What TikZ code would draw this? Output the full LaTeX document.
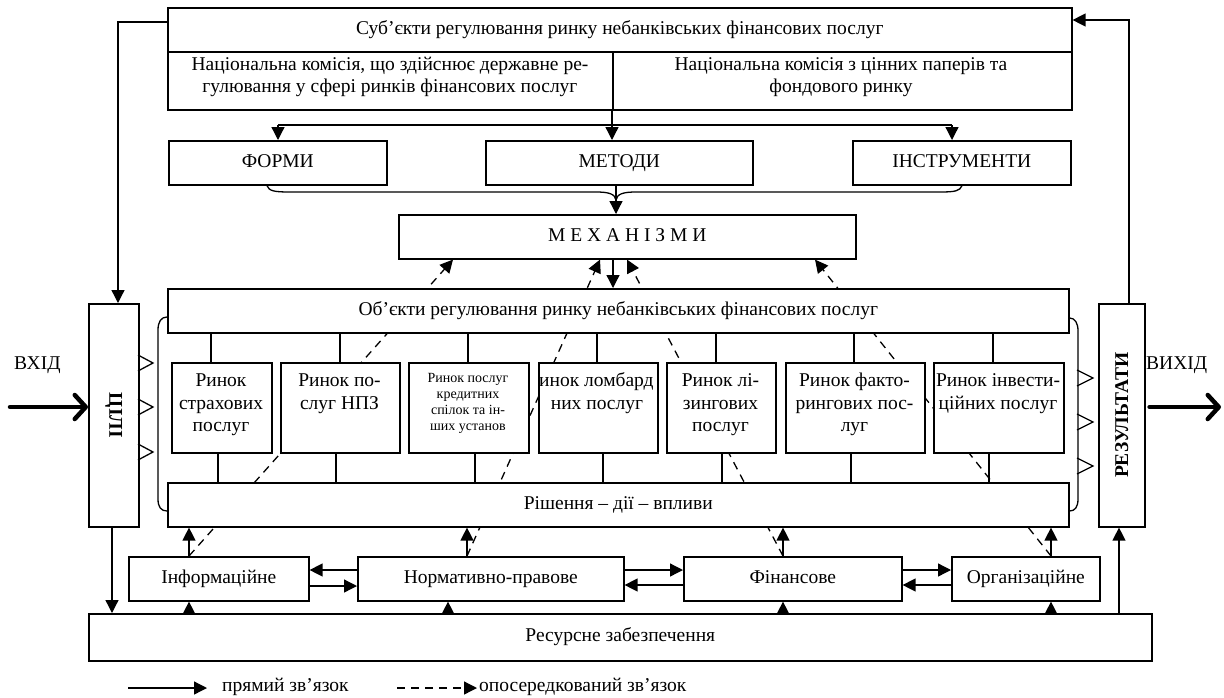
\documentclass[tikz,border=0pt]{standalone}
\usepackage{fontspec}
\setmainfont{Liberation Serif}
\usetikzlibrary{arrows.meta,backgrounds}
\newcommand\fsz{\fontsize{19.5}{22.5}\selectfont}
\newcommand\fsm{\fontsize{14}{16.2}\selectfont}
\tikzset{
  bx/.style={draw, line width=1.6pt, fill=white, inner sep=0pt, anchor=north west, align=center, font=\fsz, text height=13pt, text depth=4pt},
  tx/.style={inner sep=0pt, align=center, font=\fsz},
  ln/.style={line width=1.3pt},
  ar/.style={ln, -{Triangle[length=13pt,width=13pt]}},
  da/.style={ln, dash pattern=on 8pt off 6pt, -{Triangle[length=13pt,width=13pt]}},
  thk/.style={line width=4.5pt, line cap=round, -{Straight Barb[length=11pt,width=24pt,round]}},
}
\begin{document}
\begin{tikzpicture}[x=1pt,y=-1pt]
\useasboundingbox (0,0) rectangle (1224,697);
% boxes
\node[bx, minimum width=904pt, minimum height=44pt] (subjH) at (167,7) {Суб’єкти регулювання ринку небанківських фінансових послуг};
\node[bx, minimum width=445pt, minimum height=58pt] (nkL) at (167,51) {};
\node[bx, minimum width=459pt, minimum height=58pt] (nkR) at (612,51) {};
\node[tx] (nkLt) at (390,77) {Національна комісія, що здійснює державне ре-\\гулювання у сфері ринків фінансових послуг};
\node[tx] (nkRt) at (841,77) {Національна комісія з цінних паперів та\\фондового ринку};
\node[bx, minimum width=218pt, minimum height=44pt] (formy) at (168,140) {ФОРМИ};
\node[bx, minimum width=267pt, minimum height=44pt] (metody) at (485,140) {МЕТОДИ};
\node[bx, minimum width=218pt, minimum height=44pt] (instr) at (852,140) {ІНСТРУМЕНТИ};
\node[bx, minimum width=457pt, minimum height=44pt] (mech) at (398,214) {М Е Х А Н І З М И};
\node[bx, minimum width=901pt, minimum height=44pt] (obj) at (167,288) {Об’єкти регулювання ринку небанківських фінансових послуг};
\node[bx, minimum width=901pt, minimum height=44pt] (rish) at (167,482) {Рішення – дії – впливи};
\node[bx, minimum width=100pt, minimum height=90pt] (m1) at (171,362) {};
\node[bx, minimum width=119pt, minimum height=90pt] (m2) at (280,362) {};
\node[bx, minimum width=120pt, minimum height=90pt] (m3) at (408,362) {};
\node[bx, minimum width=119pt, minimum height=90pt] (m4) at (538,362) {};
\node[bx, minimum width=109pt, minimum height=90pt] (m5) at (666,362) {};
\node[bx, minimum width=139pt, minimum height=90pt] (m6) at (785,362) {};
\node[bx, minimum width=130pt, minimum height=90pt] (m7) at (933,362) {};
% base anchor = baseline of last line
\node[tx, anchor=base] (m1t) at (221,431.5) {Ринок\\страхових\\послуг};
\node[tx, anchor=base] (m2t) at (339.5,409) {Ринок по-\\слуг НПЗ};
\node[tx, anchor=base, font=\fsm] (m3t) at (468,430.6) {Ринок послуг\\кредитних\\спілок та ін-\\ших установ};
\begin{scope}
\clip (m4.north west) rectangle (m4.south east);
\node[tx, anchor=base] (m4a) at (591,386.5) {Ринок ломбард};
\node[tx, anchor=base] (m4b) at (597,409) {них послуг};
\end{scope}
\node[tx, anchor=base] (m5t) at (720.5,431.5) {Ринок лі-\\зингових\\послуг};
\node[tx, anchor=base] (m6t) at (854.5,431.5) {Ринок факто-\\рингових пос-\\луг};
\node[tx, anchor=base] (m7t) at (998,409) {Ринок інвести-\\ційних послуг};
\node[bx, minimum width=50pt, minimum height=223pt] (cili) at (88,303) {};
\node[tx, rotate=-90, font=\fsz\bfseries] (cilit) at (cili.center) {ЦІЛІ};
\node[bx, minimum width=46pt, minimum height=223pt] (rez) at (1098,303) {};
\node[tx, rotate=90, font=\fsz\bfseries] (rezt) at (rez.center) {РЕЗУЛЬТАТИ};
\node[bx, minimum width=180pt, minimum height=44pt] (inf) at (128,556) {Інформаційне};
\node[bx, minimum width=266pt, minimum height=44pt] (norm) at (357,556) {Нормативно-правове};
\node[bx, minimum width=218pt, minimum height=44pt] (fin) at (683,556) {Фінансове};
\node[bx, minimum width=148pt, minimum height=44pt] (org) at (951,556) {Організаційне};
\node[bx, minimum width=1063pt, minimum height=47pt] (res) at (88,613) {Ресурсне забезпечення};
\node[tx, anchor=west] (vin) at (14,365) {ВХІД};
\node[tx, anchor=west] (vout) at (1146,365) {ВИХІД};
% top connectors
\coordinate (lft) at (118,22);
\draw[ar] (subjH.west |- lft) -- (lft) -- (lft |- cili.north);
\coordinate (rgt) at (1129,20);
\draw[ar] (rgt |- rez.north) -- (rgt) -- (subjH.east |- rgt);
\coordinate (fa) at (278,125);
\coordinate (ia) at (952,125);
\draw[ln] (fa) -- (ia);
\draw[ar] (fa) -- (fa |- formy.north);
\draw[ar] (ia) -- (ia |- instr.north);
\draw[ar] (nkR.south west) -- (nkR.south west |- metody.north);
% brace to mechanisms
\coordinate (bc) at (616,200);
\draw[ln] (formy.south -| 267,0) .. controls (269,191) and (274,192) .. (290,192) -- (596,192) .. controls (609,192) and (615,194) .. (bc);
\draw[ln] (instr.south -| 962,0) .. controls (960,191) and (955,192) .. (940,192) -- (636,192) .. controls (623,192) and (617,194) .. (bc);
\draw[ar] (metody.south -| bc) -- (bc |- mech.north);
\draw[ar] (mech.south -| 613,0) -- (obj.north -| 613,0);
% objects - markets - decisions
\foreach \m/\a/\b in {m1/211/218, m2/340/336, m3/468/475, m4/597/603, m5/716/722, m6/854/851, m7/993/989} {
  \draw[ln] (obj.south -| \a,0) -- (\m.north -| \a,0);
  \draw[ln] (\m.south -| \b,0) -- (rish.north -| \b,0);
}
% big brackets
\draw[ln] (obj.west |- 0,317) .. controls (161,317) and (158,322) .. (158,330) -- (158,499) .. controls (158,507) and (161,511) .. (rish.west |- 0,511);
\draw[ln] (obj.east |- 0,318) .. controls (1075,318) and (1078,323) .. (1078,331) -- (1078,499) .. controls (1078,507) and (1075,511) .. (rish.east |- 0,511);
% open triangles
\foreach \y in {363,407,452} { \draw[ln] (138,\y-8) -- (153,\y) -- (138,\y+8); }
\foreach \y in {378,422,466} { \draw[ln] (1077,\y-8) -- (1093,\y) -- (1077,\y+8); }
% in / out
\coordinate (inS) at (10,407);
\draw[thk] (inS) -- (cili.west |- inS);
\coordinate (outE) at (1221,407);
\draw[thk, shorten <=4pt] (rez.east |- outE) -- (outE);
% bottom
\draw[ar] (inf.north -| 189,0) -- (rish.south -| 189,0);
\draw[ar] (norm.north -| 467,0) -- (rish.south -| 467,0);
\draw[ar] (fin.north -| 783,0) -- (rish.south -| 783,0);
\draw[ar] (org.north -| 1051,0) -- (rish.south -| 1051,0);
\draw[ar] (res.north -| 189,0) -- (inf.south -| 189,0);
\draw[ar] (res.north -| 448,0) -- (norm.south -| 448,0);
\draw[ar] (res.north -| 783,0) -- (fin.south -| 783,0);
\draw[ar] (res.north -| 1051,0) -- (org.south -| 1051,0);
\draw[ar] (norm.west |- 0,570) -- (inf.east |- 0,570);
\draw[ar] (inf.east |- 0,586) -- (norm.west |- 0,586);
\draw[ar] (norm.east |- 0,570) -- (fin.west |- 0,570);
\draw[ar] (fin.west |- 0,585) -- (norm.east |- 0,585);
\draw[ar] (fin.east |- 0,570) -- (org.west |- 0,570);
\draw[ar] (org.west |- 0,585) -- (fin.east |- 0,585);
\draw[ar] (cili.south -| 112,0) -- (res.north -| 112,0);
\draw[ar] (res.north -| 1119,0) -- (rez.south -| 1119,0);
% dashed (behind boxes)
\begin{pgfonlayer}{background}
\draw[da] (inf.north -| 189,0) -- (mech.south -| 453,0);
\draw[da] (norm.north -| 467,0) -- (mech.south -| 600,0);
\draw[da] (fin.north -| 783,0) -- (mech.south -| 627,0);
\draw[da] (org.north -| 1051,0) -- (mech.south -| 815,0);
\end{pgfonlayer}
% legend
\coordinate (l1a) at (128,688);
\coordinate (l1b) at (207,688);
\draw[ar] (l1a) -- (l1b);
\node[tx, anchor=west] (l1t) at (222,687) {прямий зв’язок};
\coordinate (l2a) at (397,688);
\coordinate (l2b) at (477,688);
\draw[da] (l2a) -- (l2b);
\node[tx, anchor=west] (l2t) at (479,687) {опосередкований зв’язок};
\end{tikzpicture}
\end{document}
